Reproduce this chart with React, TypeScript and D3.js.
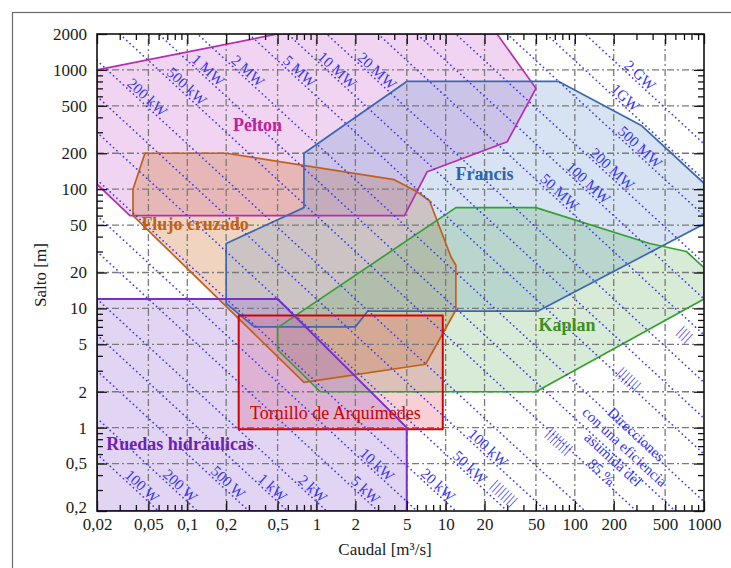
import * as d3 from 'd3';
import { useRef, useEffect } from 'react';

const width = 731;
const height = 568;
const marginLeft = 97;
const marginRight = 27;
const marginTop = 34;
const marginBottom = 57;

// axes
const xMajor = [0.02, 0.05, 0.1, 0.2, 0.5, 1, 2, 5, 10, 20, 50, 100, 200, 500, 1000];
const xLabels = ['0,02', '0,05', '0,1', '0,2', '0,5', '1', '2', '5', '10', '20', '50', '100', '200', '500', '1000'];
const yMajor = [0.2, 0.5, 1, 2, 5, 10, 20, 50, 100, 200, 500, 1000, 2000];
const yLabels = ['0,2', '0,5', '1', '2', '5', '10', '20', '50', '100', '200', '500', '1000', '2000'];

// turbine ranges, points are [caudal m3/s, salto m]
const pelton = [[0.02, 1000], [0.5, 2000], [25, 2000], [50, 700], [30, 250], [7.2, 140], [4.8, 60], [0.036, 60], [0.02, 110]];
const flujoCruzado = [[0.047, 200], [0.2, 200], [4, 120], [6, 95], [7.5, 80], [11, 27], [12, 23], [12, 9.7], [7, 3.4], [0.8, 2.4], [0.038, 60], [0.038, 100]];
const francis = [[0.8, 200], [5, 800], [75, 800], [330, 340], [1000, 112], [1000, 51], [52, 9.5], [2.5, 9.5], [2, 7], [0.33, 7], [0.2, 11], [0.2, 35], [0.8, 70]];
const kaplan = [[0.5, 4.5], [0.5, 6.9], [12, 70], [50, 70], [380, 35], [730, 30], [1000, 22], [1000, 12], [50, 2], [1.07, 2]];
const tornillo = [[0.25, 0.97], [0.25, 8.7], [9.5, 8.7], [9.5, 0.97]];
const ruedas = [[0.02, 0.2], [0.02, 12], [0.5, 12], [5, 1], [5, 0.2]];

const regions = [
  { name: 'Pelton', pts: pelton, stroke: '#b82cb0', fill: '#d070d0', op: 0.3, label: [0.35, 350], color: '#c0209c' },
  { name: 'Flujo cruzado', pts: flujoCruzado, stroke: '#c0601c', fill: '#d07030', op: 0.3, label: [0.115, 51], color: '#c46010' },
  { name: 'Francis', pts: francis, stroke: '#3c68b0', fill: '#6090d0', op: 0.25, label: [20, 135], color: '#2c64b0' },
  { name: 'Kaplan', pts: kaplan, stroke: '#34a034', fill: '#60b060', op: 0.25, label: [87, 7.3], color: '#3c9020' },
  { name: 'Tornillo de Arquímedes', pts: tornillo, stroke: '#d80000', fill: '#e86070', op: 0.3, label: [1.4, 1.33], color: '#d00000' },
  { name: 'Ruedas hidráulicas', pts: ruedas, stroke: '#7a30c8', fill: '#a070d8', op: 0.3, label: [0.088, 0.74], color: '#7020b0' },
];

// power lines P = 1000 * 9.81 * 0.85 * Q * H
const efficiency = 0.85;
const powerW = [100, 200, 500, 1e3, 2e3, 5e3, 1e4, 2e4, 5e4, 1e5, 2e5, 5e5, 1e6, 2e6, 5e6, 1e7, 2e7, 5e7, 1e8, 2e8, 5e8, 1e9, 2e9];
const powerNames = ['100 W', '200 W', '500 W', '1 kW', '2 kW', '5 kW', '10 kW', '20 kW', '50 kW', '100 kW', '200 kW', '500 kW', '1 MW', '2 MW', '5 MW', '10 MW', '20 MW', '50 MW', '100 MW', '200 MW', '500 MW', '1GW', '2 GW'];
const powerLabelQ = [0.041, 0.081, 0.19, 0.42, 0.86, 2.2, 2.7, 8.0, 14.2, 19.6, 0.045, 0.091, 0.133, 0.27, 0.68, 1.33, 2.7, 70, 117, 179, 294, 226, 294];

// labels that came out as bars in the original
const hatchQ = [28.7, 76.7, 265, 720];
const hatchH = [0.283, 0.77, 2.56, 6.1];
const hatchText = ['||||||||', '||||||||', '|||||||', '||||'];

const noteLines = ['Direcciones', 'con una eficiencia', 'asumida del', '85 %'];
const noteAt = [300, 0.88];

const serif = '"Liberation Serif", "Times New Roman", serif';

function decadeTicks(lo: number, hi: number) {
  const out: number[] = [];
  for (let e = -3; e <= 4; e++) {
    for (let m = 1; m <= 9; m++) {
      const v = +(m * Math.pow(10, e)).toPrecision(6);
      if (v >= lo * 0.999 && v <= hi * 1.001) out.push(v);
    }
  }
  return out;
}

const isIn = (arr: number[], v: number) => arr.some((a) => Math.abs(a - v) / a < 1e-6);

export default function App() {
  const gx = useRef<SVGGElement | null>(null);
  const gxTop = useRef<SVGGElement | null>(null);
  const gy = useRef<SVGGElement | null>(null);
  const gyRight = useRef<SVGGElement | null>(null);

  const x = d3.scaleLog().domain([0.02, 1000]).range([marginLeft, width - marginRight]);
  const y = d3.scaleLog().domain([0.2, 2000]).range([height - marginBottom, marginTop]);
  const line = d3.line<number[]>((d) => x(d[0]), (d) => y(d[1]));

  const xAll = decadeTicks(0.02, 1000);
  const yAll = decadeTicks(0.2, 2000);

  // angle of the constant power lines on screen
  const angle = (Math.atan2(y(0.1) - y(1), x(10) - x(1)) * 180) / Math.PI;

  useEffect(() => {
    const style = (g: d3.Selection<SVGGElement, unknown, null, undefined>, major: number[], dir: number, horiz: boolean) => {
      g.select('.domain').remove();
      g.selectAll<SVGLineElement, number>('.tick line')
        .attr(horiz ? 'y2' : 'x2', (d) => dir * (isIn(major, d) ? 10 : 6))
        .attr('stroke', '#111')
        .attr('stroke-width', 1.3);
      g.attr('font-family', serif).attr('font-size', 17);
      g.selectAll('.tick text').attr('fill', '#1a1a1a');
    };
    const fmtX = (d: d3.NumberValue) => {
      const i = xMajor.findIndex((v) => Math.abs(v - +d) / v < 1e-6);
      return i >= 0 ? xLabels[i] : '';
    };
    const fmtY = (d: d3.NumberValue) => {
      const i = yMajor.findIndex((v) => Math.abs(v - +d) / v < 1e-6);
      return i >= 0 ? yLabels[i] : '';
    };
    if (gx.current) {
      const g = d3.select(gx.current);
      g.call(d3.axisBottom(x).tickValues(xAll).tickSize(-6).tickPadding(7).tickFormat(fmtX));
      style(g, xMajor, -1, true);
    }
    if (gxTop.current) {
      const g = d3.select(gxTop.current);
      g.call(d3.axisTop(x).tickValues(xAll).tickSize(-6).tickFormat(() => ''));
      style(g, xMajor, 1, true);
    }
    if (gy.current) {
      const g = d3.select(gy.current);
      g.call(d3.axisLeft(y).tickValues(yAll).tickSize(-6).tickPadding(10).tickFormat(fmtY));
      style(g, yMajor, 1, false);
      // lowest label sits a little above the corner, as in the source
      g.selectAll<SVGTextElement, number>('.tick text').attr('dy', (d) => (Math.abs(d - 0.2) < 1e-9 ? '0.1em' : '0.32em'));
    }
    if (gyRight.current) {
      const g = d3.select(gyRight.current);
      g.call(d3.axisRight(y).tickValues(yAll).tickSize(-6).tickFormat(() => ''));
      style(g, yMajor, -1, false);
    }
  }, [x, y]);

  const [x0, x1] = x.range();
  const [y0, y1] = y.range();

  return (
    <svg width={width} height={height} style={{ position: 'absolute', left: 0, top: 0, display: 'block', background: '#fff' }}>
      <defs>
        <clipPath id="plot">
          <rect x={x0} y={y1} width={x1 - x0} height={y0 - y1} />
        </clipPath>
      </defs>
      <rect x={12.5} y={12.5} width={760} height={600} fill="none" stroke="#6a6a6a" strokeWidth={1.2} />

      <g clipPath="url(#plot)">
        {regions.map((r) => (
          <path key={r.name} d={line(r.pts) + 'Z'} fill={r.fill} fillOpacity={r.op} stroke="none" />
        ))}
        {/* grid */}
        <g stroke="#7a7a7a" strokeWidth={1.3} strokeDasharray="7,3,2,3">
          {xMajor.slice(1, -1).map((v) => (
            <line key={'gx' + v} x1={x(v)} x2={x(v)} y1={y0} y2={y1} />
          ))}
          {yMajor.slice(1, -1).map((v) => (
            <line key={'gy' + v} x1={x0} x2={x1} y1={y(v)} y2={y(v)} />
          ))}
        </g>
        {regions.map((r) => (
          <path key={r.name + 's'} d={line(r.pts) + 'Z'} fill="none" stroke={r.stroke} strokeWidth={r.name === 'Ruedas hidráulicas' || r.name.startsWith('Tornillo') ? 2 : 1.7} strokeLinejoin="round" />
        ))}
        {/* constant power lines */}
        <g stroke="#3a3aff" strokeWidth={1.7} strokeDasharray="0.1,4.4" strokeLinecap="round" fill="none">
          {powerW.map((p) => {
            const k = p / (1000 * 9.81 * efficiency);
            return <path key={'p' + p} d={line([[0.02, k / 0.02], [1000, k / 1000]]) as string} />;
          })}
        </g>
      </g>

      {/* power labels */}
      <g fill="#3636f0" fontFamily={serif} fontSize={15} textAnchor="middle">
        {powerW.map((p, i) => {
          const k = p / (1000 * 9.81 * efficiency);
          const q = powerLabelQ[i];
          return (
            <text key={'pl' + p} transform={`translate(${x(q)},${y(k / q)}) rotate(${angle})`} y={-2}>
              {powerNames[i]}
            </text>
          );
        })}
        {hatchQ.map((q, i) => (
          <text key={'h' + i} transform={`translate(${x(q)},${y(hatchH[i])}) rotate(${angle})`} dy="0.35em" fontSize={14} letterSpacing={1}>
            {hatchText[i]}
          </text>
        ))}
        <g transform={`translate(${x(noteAt[0])},${y(noteAt[1])}) rotate(${angle})`} fontSize={15}>
          {noteLines.map((t, i) => (
            <text key={t} y={i * 17} dy="0.35em">
              {t}
            </text>
          ))}
        </g>
      </g>

      {/* region labels */}
      <g fontFamily={serif} fontSize={18} textAnchor="middle" fontWeight="bold">
        {regions.map((r) => (
          <text key={r.name + 'l'} x={x(r.label[0])} y={y(r.label[1])} dy="0.35em" fill={r.color} fontWeight={r.name.startsWith('Tornillo') ? 'normal' : 'bold'}>
            {r.name}
          </text>
        ))}
      </g>

      <rect x={x0} y={y1} width={x1 - x0} height={y0 - y1} fill="none" stroke="#111" strokeWidth={1.6} />
      <g ref={gx} transform={`translate(0,${y0})`} />
      <g ref={gxTop} transform={`translate(0,${y1})`} />
      <g ref={gy} transform={`translate(${x0},0)`} />
      <g ref={gyRight} transform={`translate(${x1},0)`} />

      <text x={385} y={549} dy="0.35em" textAnchor="middle" fontFamily={serif} fontSize={17} fill="#1a1a1a">
        Caudal [m³/s]
      </text>
      <text transform={`translate(40,275) rotate(-90)`} dy="0.35em" textAnchor="middle" fontFamily={serif} fontSize={17} fill="#1a1a1a">
        Salto [m]
      </text>
    </svg>
  );
}
